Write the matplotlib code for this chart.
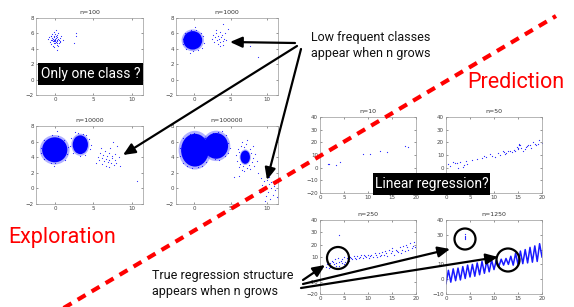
import matplotlib
matplotlib.use("Agg")
import matplotlib.pyplot as plt
from matplotlib.patches import Ellipse, Rectangle, FancyArrowPatch
from matplotlib.lines import Line2D
import numpy as np

W, H = 574, 307

# ---------------- datos ----------------
# paneles de clasificacion: nucleos densos (cx, cy, ancho, alto) y puntos sueltos
cores_1000 = [(-0.2, 5.1, 2.6, 2.4)]
cores_10000 = [(-0.05, 4.95, 3.3, 3.2), (3.3, 5.6, 2.0, 2.4)]
cores_100000 = [(0.1, 4.9, 3.8, 4.2), (3.0, 5.45, 3.3, 3.3), (7.0, 4.0, 1.3, 1.7)]

pts_100 = [(-0.9, 5.3), (-0.7, 4.9), (-0.6, 5.6), (-0.5, 5.1), (-0.5, 4.6), (-0.4, 5.4),
           (-0.4, 5.9), (-0.3, 5.0), (-0.3, 5.3), (-0.3, 4.4), (-0.2, 5.7), (-0.2, 5.2),
           (-0.2, 4.8), (-0.1, 5.5), (-0.1, 5.0), (-0.1, 6.2), (0.0, 5.3), (0.0, 4.7),
           (0.0, 5.9), (0.0, 5.1), (0.1, 5.4), (0.1, 4.9), (0.1, 5.6), (0.2, 5.2),
           (0.2, 4.5), (0.2, 5.8), (0.3, 5.0), (0.3, 5.5), (0.3, 4.8), (0.4, 5.3),
           (0.4, 6.0), (0.5, 5.1), (0.5, 4.7), (0.6, 5.4), (0.7, 5.0), (0.8, 5.6),
           (1.0, 5.2), (-0.6, 5.7), (-0.2, 4.2), (0.1, 6.4), (0.4, 4.3), (-0.4, 5.2),
           (0.2, 3.8), (0.0, 5.0), (-0.8, 5.5), (0.6, 4.9),
           (2.7, 6.1), (2.7, 5.6), (2.5, 4.8)]

pts_1000 = [(-1.6, 5.3), (-1.5, 4.6), (1.2, 5.6), (1.3, 4.7), (-0.5, 6.5), (0.3, 6.4),
            (-0.2, 3.7), (0.5, 3.8), (-1.2, 6.1), (0.9, 6.0), (-1.1, 4.0), (1.0, 4.1),
            (0.1, 6.8), (-0.6, 3.5),
            (2.4, 5.3), (2.6, 5.8), (2.7, 4.9), (2.9, 5.5), (3.0, 6.0), (3.1, 5.1),
            (3.2, 4.6), (3.3, 5.6), (3.4, 5.3), (3.5, 6.2), (3.6, 4.9), (3.7, 5.5),
            (3.8, 5.8), (3.9, 5.0), (4.0, 4.5), (4.1, 5.3), (4.2, 6.0), (4.4, 5.2),
            (3.0, 6.5), (3.5, 4.3),
            (3.9, 7.2), (4.6, 6.6), (7.6, 4.3), (8.7, 2.9)]

pts_10000 = [(-1.9, 5.2), (-1.8, 4.5), (1.7, 5.3), (1.6, 4.4), (-0.4, 6.8), (0.4, 6.7),
             (0.0, 3.2), (-0.6, 3.3), (-1.4, 6.2), (1.2, 6.2), (-1.4, 3.8), (1.3, 3.7),
             (0.2, 7.3), (-0.2, 2.9),
             (2.1, 6.4), (2.3, 4.6), (4.4, 6.3), (4.5, 5.0), (3.0, 7.1), (3.7, 7.0),
             (3.2, 4.1), (3.9, 4.3), (4.7, 5.6), (2.0, 5.5), (4.1, 6.8), (2.6, 7.2),
             (5.3, 3.3), (5.6, 4.0), (5.8, 3.6), (5.9, 4.5), (6.1, 3.1), (6.2, 3.9),
             (6.3, 4.3), (6.4, 3.5), (6.5, 4.8), (6.6, 3.8), (6.7, 2.9), (6.8, 4.1),
             (6.9, 3.4), (7.0, 4.6), (7.1, 3.7), (7.2, 5.2), (7.3, 3.2), (7.4, 4.2),
             (7.5, 3.9), (7.6, 5.9), (7.7, 3.0), (7.8, 4.4), (7.9, 3.6), (8.1, 5.4),
             (8.3, 4.0), (8.5, 2.9), (6.0, 5.2), (7.0, 2.7), (8.0, 3.3),
             (10.7, 0.9)]

pts_100000 = [(-2.0, 5.2), (-1.9, 4.2), (2.0, 4.5), (-1.5, 6.5), (1.5, 6.5), (-1.6, 3.3),
              (1.6, 3.4), (0.0, 7.1), (-0.6, 7.0), (0.5, 2.7), (-0.3, 2.6), (-1.0, 2.9),
              (1.0, 2.9),
              (4.7, 5.8), (4.6, 4.6), (3.3, 7.2), (2.6, 7.1), (4.3, 6.8), (4.2, 4.1),
              (3.4, 3.7), (2.8, 3.8), (4.9, 5.2), (3.8, 7.3),
              (5.7, 4.3), (5.9, 3.5), (6.0, 5.1), (6.1, 2.7), (6.2, 4.7), (6.3, 3.1),
              (6.4, 5.5), (6.5, 2.4), (6.6, 6.0), (6.7, 2.9), (6.8, 5.3), (6.9, 2.2),
              (7.1, 5.7), (7.2, 2.6), (7.3, 6.2), (7.5, 3.0), (7.6, 5.0), (7.7, 2.5),
              (7.8, 4.6), (7.9, 3.4), (8.0, 5.4), (8.1, 3.9), (8.2, 2.9), (8.4, 4.4),
              (8.6, 3.5), (5.5, 1.5), (8.8, 2.0), (6.2, 1.6),
              (9.1, 1.3), (9.3, 0.4), (9.5, -0.3), (9.6, 0.9), (9.8, -1.0), (9.9, 0.2),
              (10.0, 1.1), (10.1, -0.5), (10.2, 0.5), (10.4, -1.3), (10.5, 0.0), (10.6, 0.8),
              (10.8, -0.8), (10.9, 0.3), (11.1, -0.2), (11.2, 1.0), (11.4, -1.1), (9.7, -1.6),
              (10.3, 1.5), (8.9, -0.4)]

# paneles de regresion
pts_10 = [(1.7, 2.7), (3.3, 1.9), (4.2, 4.6), (9.0, 10.8), (10.4, 10.8), (12.6, 13.0),
          (13.9, 12.2), (17.7, 17.0), (18.4, 16.2), (1.9, 3.2)]

pts_50 = [(0.5, 2.7), (0.9, 1.5), (1.4, 4.6), (1.9, 4.0), (2.4, 0.0), (3.0, 4.6),
          (3.5, 0.5), (4.2, 4.9), (4.4, 2.7), (2.2, 3.6), (6.4, 6.8), (7.6, 8.0),
          (8.4, 8.6), (9.1, 10.8), (9.6, 9.2), (10.2, 8.6), (10.8, 11.5), (11.2, 10.0),
          (11.9, 13.5), (12.3, 10.6), (12.6, 11.4), (13.0, 12.8), (13.3, 13.0), (13.7, 12.0),
          (14.1, 14.0), (14.4, 13.2), (14.7, 16.0), (15.0, 14.5), (15.2, 19.0), (15.3, 18.0),
          (15.4, 17.6), (15.7, 15.2), (16.1, 13.5), (16.4, 15.0), (16.7, 16.0), (17.1, 18.2),
          (17.4, 17.6), (17.8, 15.5), (18.1, 20.3), (18.5, 19.0), (18.8, 17.6), (19.1, 18.5),
          (19.4, 21.6), (19.9, 19.5), (5.5, 6.0), (8.0, 9.5), (12.0, 12.0), (14.9, 15.5),
          (16.9, 17.0), (3.8, 2.0)]

pts_250 = [(1.2, 2), (1.5, 6), (1.8, 1), (2.0, 5), (2.3, 3), (2.6, 7), (2.9, 4), (3.1, 8),
           (3.4, 5), (3.7, 9), (4.0, 3), (4.3, 7), (4.6, 5), (4.9, 10), (5.2, 6), (5.6, 9),
           (6.0, 7), (6.3, 10), (6.7, 8), (7.0, 11), (7.4, 8), (7.8, 11), (8.1, 9), (8.5, 12),
           (8.9, 9), (9.2, 12), (9.6, 10), (10.0, 12), (10.3, 9), (10.7, 12), (11.1, 10),
           (11.4, 13), (11.8, 10), (12.2, 13), (12.5, 11), (12.9, 14), (13.3, 12), (13.6, 15),
           (14.0, 11), (14.4, 16), (14.7, 13), (15.1, 17), (15.5, 12), (15.8, 16), (16.2, 14),
           (16.6, 18), (16.9, 13), (17.3, 19), (17.7, 15), (18.0, 20), (18.4, 16), (18.8, 21),
           (19.1, 17), (19.5, 22), (19.8, 18), (4.0, 28),
           (1.4, 4), (2.1, 2), (2.8, 6), (3.3, 3), (3.9, 6), (4.5, 8), (5.0, 4), (5.8, 8),
           (6.5, 9), (7.2, 9), (8.3, 10), (9.4, 11), (10.5, 11), (11.6, 12), (12.7, 12),
           (13.8, 13), (14.9, 15), (16.0, 15), (17.1, 16), (18.2, 18), (19.3, 19)]

zig_1250_x = [0.0, 0.5, 1.0, 1.5, 2.0, 2.5, 3.0, 3.5, 4.0, 4.5, 5.0, 5.5, 6.0, 6.5,
              7.0, 7.5, 8.0, 8.5, 9.0, 9.5, 10.0, 10.5, 11.0, 11.5, 12.0, 12.5, 13.0,
              13.5, 14.0, 14.5, 15.0, 15.5, 16.0, 16.5, 17.0, 17.5, 18.0, 18.5, 19.0,
              19.5, 20.0]
zig_1250_y = [-3, 6, -2, 7, -1, 7.5, -0.5, 8.5, 0.5, 9.5, 1.5, 10, 2, 11, 3, 12, 4,
              12.5, 5, 13, 6.5, 13, 8.5, 13.5, 9.5, 14, 10, 15.5, 9.5, 17.5, 10, 19,
              10.5, 20, 11, 21.5, 11.5, 22.5, 12, 24, 15]
out_1250 = [(4.0, 27.5), (4.0, 28.5), (4.0, 29.5), (4.05, 30.5), (3.95, 28.0)]

clas_xticks = [0, 5, 10]
clas_yticks = [-2, 0, 2, 4, 6, 8]
reg_xticks = [0, 5, 10, 15, 20]
reg_yticks = [-20, -10, 0, 10, 20, 30, 40]

AZUL = '#0000ff'
ROJO = '#ff0000'
FUENTE = 'Roboto'

fig = plt.figure(figsize=(W / 100, H / 100), dpi=100)


def rect_px(x0, y0, x1, y1):
    return [x0 / W, 1 - y1 / H, (x1 - x0) / W, (y1 - y0) / H]


def fpx(x, y):
    return (x / W, 1 - y / H)


def estilo(ax, xlim, ylim, xticks, yticks, titulo):
    ax.set_xlim(xlim)
    ax.set_ylim(ylim)
    ax.set_xticks(xticks)
    ax.set_yticks(yticks)
    ax.tick_params(direction='in', length=1.5, width=0.4, labelsize=4, pad=1.5,
                   top=True, right=True, colors='#444444')
    for s in ax.spines.values():
        s.set_linewidth(0.5)
        s.set_color('#999999')
    ax.set_title(titulo, fontsize=4.5, pad=3, color='#333333')


def panel_clas(rect, titulo, pts, cores):
    ax = fig.add_axes(rect_px(*rect))
    for cx, cy, w, h in cores:
        # halo difuso + nucleo solido
        ax.add_patch(Ellipse((cx, cy), w * 1.18, h * 1.18, fc=AZUL, ec='none', alpha=0.3))
        ax.add_patch(Ellipse((cx, cy), w, h, fc=AZUL, ec='none'))
    p = np.array(pts)
    ax.scatter(p[:, 0], p[:, 1], s=0.7, c=AZUL, linewidths=0, alpha=0.85)
    estilo(ax, (-2.5, 11.5), (-2, 8), clas_xticks, clas_yticks, titulo)
    return ax


panel_clas((36, 18, 143, 95), 'n=100', pts_100, [])
panel_clas((176, 18, 278, 95), 'n=1000', pts_1000, cores_1000)
panel_clas((36, 126, 143, 204), 'n=10000', pts_10000, cores_10000)
panel_clas((176, 126, 278, 204), 'n=100000', pts_100000, cores_100000)


def panel_reg(rect, titulo, pts, ylim, yticks):
    ax = fig.add_axes(rect_px(*rect))
    p = np.array(pts)
    ax.scatter(p[:, 0], p[:, 1], s=0.8, c=AZUL, linewidths=0, alpha=0.85)
    estilo(ax, (0, 20), ylim, reg_xticks, yticks, titulo)
    return ax


panel_reg((320, 117, 416, 193), 'n=10', pts_10, (-20, 40), reg_yticks)
panel_reg((446, 117, 542, 193), 'n=50', pts_50, (-20, 40), reg_yticks)
panel_reg((320, 220, 416, 294), 'n=250', pts_250, (-20, 40), reg_yticks)
ax8 = panel_reg((446, 220, 542, 294), 'n=1250', out_1250, (-10, 40), reg_yticks[1:])
ax8.plot(zig_1250_x, zig_1250_y, color=AZUL, lw=1.1, alpha=0.9)

# linea roja diagonal
fig.add_artist(Line2D([62 / W, 556 / W], [1 - 309 / H, 1 - 16 / H], color=ROJO, lw=3,
                      linestyle=(0, (2.2, 1.7)), zorder=10))

# textos
fig.text(*fpx(8, 238), 'Exploration', color=ROJO, fontsize=15.5, family=FUENTE,
         va='center', ha='left')
fig.text(*fpx(467, 82), 'Prediction', color=ROJO, fontsize=15.5, family=FUENTE,
         va='center', ha='left')
fig.text(*fpx(311, 46), 'Low frequent classes\nappear when n grows', color='#111111',
         fontsize=9, family=FUENTE, va='center', ha='left', linespacing=1.3)
fig.text(*fpx(152, 283), 'True regression structure\nappears when n grows', color='#111111',
         fontsize=9, family=FUENTE, va='center', ha='left', linespacing=1.3)

# cajas negras
for (x0, y0, x1, y1), txt in [((38, 63, 143, 85), 'Only one class ?'),
                              ((373, 173, 490, 195), 'Linear regression?')]:
    fig.add_artist(Rectangle(fpx(x0, y1), (x1 - x0) / W, (y1 - y0) / H,
                             transform=fig.transFigure, fc='black', ec='none', zorder=11))
    fig.text(*fpx((x0 + x1) / 2, (y0 + y1) / 2), txt, color='white', fontsize=10,
             family=FUENTE, ha='center', va='center', zorder=12)

# circulos
for cx, cy, r in [(338, 258, 11), (465, 239, 10.5), (508, 260, 11.5)]:
    fig.add_artist(Ellipse(fpx(cx, cy), 2 * r / W, 2 * r / H, transform=fig.transFigure,
                           fc='none', ec='black', lw=1.6, zorder=12))

# flechas
flechas = [((295, 43), (230, 42)), ((297, 46), (123, 155)), ((301, 49), (267, 180)),
           ((303, 280), (325, 265)), ((303, 284), (450, 249)), ((301, 288), (498, 257))]
for a, b in flechas:
    fig.add_artist(FancyArrowPatch(fpx(*a), fpx(*b), transform=fig.transFigure,
                                   arrowstyle='-|>,head_length=0.9,head_width=0.4',
                                   mutation_scale=8, lw=1.6, color='black',
                                   shrinkA=0, shrinkB=0, zorder=13))

fig.savefig('out.png', dpi=100)
